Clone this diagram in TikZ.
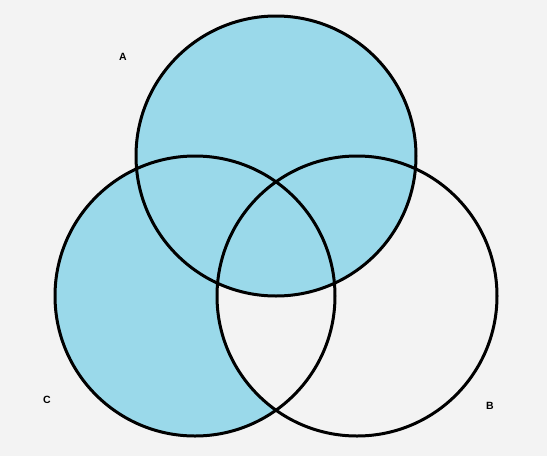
\documentclass[tikz,border=0pt]{standalone}
\usepackage{fontspec}
\setmainfont{Liberation Sans}
\usepackage{xcolor}
\definecolor{vennblue}{HTML}{9AD9EA}
\definecolor{paper}{HTML}{F3F3F3}

\begin{document}
\begin{tikzpicture}[x=1pt,y=-1pt,
  setline/.style={draw=black,line width=3pt},
  setlabel/.style={font=\fontsize{10.5}{12}\selectfont\bfseries,inner sep=0pt}]
\fill[paper] (0,0) rectangle (547,456);
% shading: A together with C outside B
\fill[vennblue] (195,296) circle (140);
\begin{scope}
\clip (195,296) circle (140);
\fill[paper] (357,296) circle (140);
\end{scope}
\fill[vennblue] (276,156) circle (140);
% outlines
\node[circle,setline,minimum size=280pt,inner sep=0pt] (A) at (276,156) {};
\node[circle,setline,minimum size=280pt,inner sep=0pt] (C) at (195,296) {};
\node[circle,setline,minimum size=280pt,inner sep=0pt] (B) at (357,296) {};
\node[setlabel] (lA) at (123,57) {A};
\node[setlabel] (lC) at (47,400) {C};
\node[setlabel] (lB) at (490,406) {B};
\end{tikzpicture}
\end{document}
